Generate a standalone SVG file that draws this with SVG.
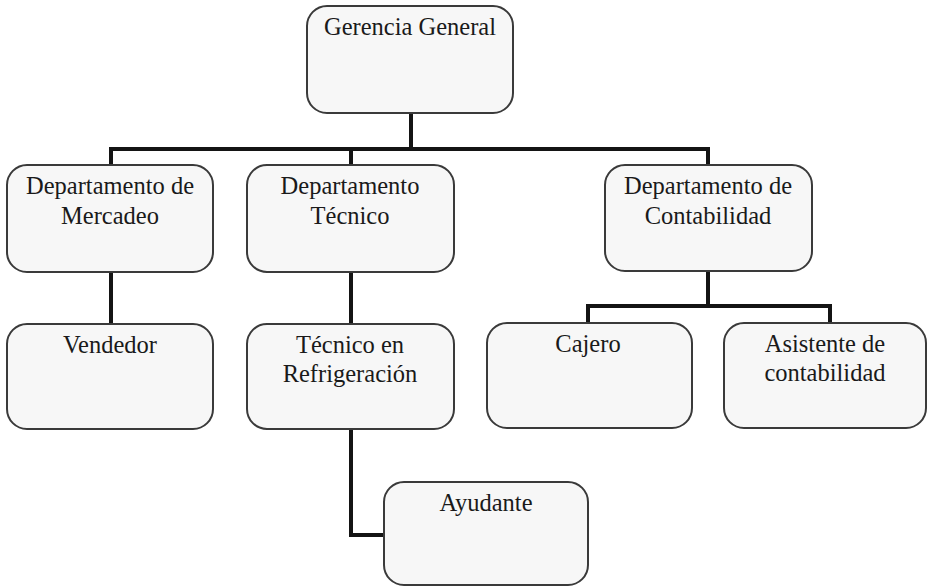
<svg xmlns="http://www.w3.org/2000/svg" width="928" height="588" viewBox="0 0 928 588">
  <style>
    .box { fill: #f7f7f7; stroke: #3a3a3a; stroke-width: 2; }
    .lbl { font-family: "Liberation Serif", "Times New Roman", serif; font-size: 24.5px; fill: #1a1a1a; text-anchor: middle; }
    .wire { fill: none; stroke: #141414; stroke-width: 4; stroke-linejoin: miter; stroke-linecap: square; }
  </style>
  <rect width="928" height="588" fill="#ffffff"/>

  <!-- connectors -->
  <g id="connectors">
    <path class="wire" d="M411 113 V149"/>
    <path class="wire" d="M111 165 V149 H708 V165"/>
    <path class="wire" d="M351 149 V165"/>
    <path class="wire" d="M111 272 V324"/>
    <path class="wire" d="M351 272 V324"/>
    <path class="wire" d="M708 271 V306"/>
    <path class="wire" d="M588 323 V306 H830 V323"/>
    <path class="wire" d="M351 429 V535 H384"/>
  </g>

  <g id="gerencia-general">
    <rect class="box" x="307" y="6" width="206" height="107" rx="20"/>
    <text class="lbl" x="410" y="35">Gerencia General</text>
  </g>

  <g id="dept-mercadeo">
    <rect class="box" x="7" y="165" width="206" height="107" rx="20"/>
    <text class="lbl" x="110" y="194">Departamento de</text>
    <text class="lbl" x="110" y="224">Mercadeo</text>
  </g>

  <g id="dept-tecnico">
    <rect class="box" x="247" y="165" width="207" height="107" rx="20"/>
    <text class="lbl" x="350" y="194">Departamento</text>
    <text class="lbl" x="350" y="224">Técnico</text>
  </g>

  <g id="dept-contabilidad">
    <rect class="box" x="605" y="165" width="207" height="106" rx="20"/>
    <text class="lbl" x="708" y="194">Departamento de</text>
    <text class="lbl" x="708" y="224">Contabilidad</text>
  </g>

  <g id="vendedor">
    <rect class="box" x="7" y="324" width="206" height="105" rx="20"/>
    <text class="lbl" x="110" y="353">Vendedor</text>
  </g>

  <g id="tecnico-refrigeracion">
    <rect class="box" x="247" y="324" width="207" height="105" rx="20"/>
    <text class="lbl" x="350" y="353">Técnico en</text>
    <text class="lbl" x="350" y="382">Refrigeración</text>
  </g>

  <g id="cajero">
    <rect class="box" x="487" y="323" width="205" height="105" rx="20"/>
    <text class="lbl" x="588" y="352">Cajero</text>
  </g>

  <g id="asistente-contabilidad">
    <rect class="box" x="724" y="323" width="202" height="105" rx="20"/>
    <text class="lbl" x="825" y="352">Asistente de</text>
    <text class="lbl" x="825" y="381">contabilidad</text>
  </g>

  <g id="ayudante">
    <rect class="box" x="384" y="482" width="204" height="103" rx="20"/>
    <text class="lbl" x="486" y="511">Ayudante</text>
  </g>
</svg>
